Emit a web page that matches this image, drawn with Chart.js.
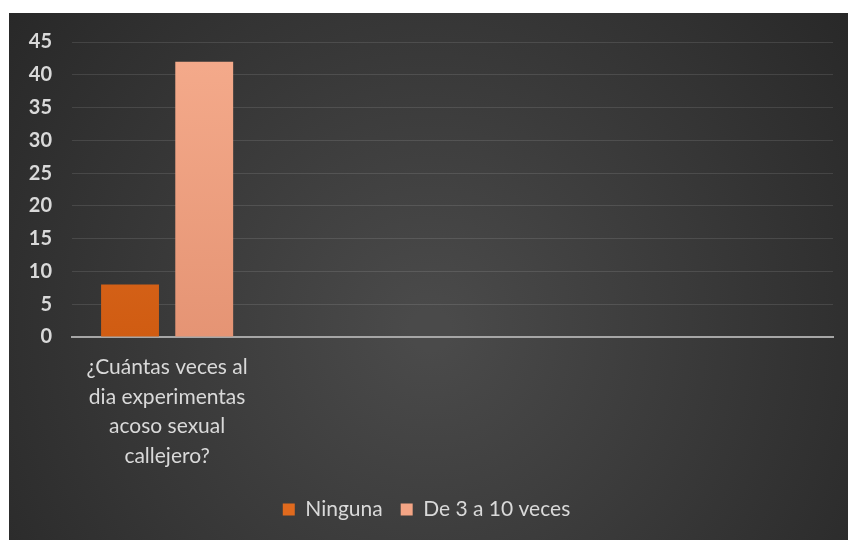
<!DOCTYPE html>
<html>
<head>
<meta charset="utf-8">
<script src="https://cdn.jsdelivr.net/npm/chart.js@4.4.1/dist/chart.umd.min.js"></script>
<style>
  html,body{margin:0;padding:0;background:#fff;}
  #wrap{width:848px;height:540px;position:relative;}
</style>
</head>
<body>
<div id="wrap"><canvas id="chart" width="848" height="540"></canvas></div>
<script>
// DATA
const categories = ['¿Cuántas veces al dia experimentas acoso sexual callejero?'];
const categoryLines = [['¿Cuántas veces al', 'dia experimentas', 'acoso sexual', 'callejero?']];
const seriesNames = ['Ninguna', 'De 3 a 10 veces'];
const ninguna = [8];
const de3a10 = [42];
const yTicks = [0, 5, 10, 15, 20, 25, 30, 35, 40, 45];

// the original plot keeps room for more categories than it fills
const SLOTS = 4;
function pad(arr, fill){ const out = arr.slice(); while(out.length < SLOTS) out.push(fill); return out; }

const textColor = '#d9d9d9';

// BACKGROUND (white margin + dark gradient panel)
const bgPlugin = {
  id:'bg',
  beforeDraw(chart){
    const c = chart.ctx;
    c.save();
    c.fillStyle = '#ffffff';
    c.fillRect(0,0,chart.width,chart.height);
    const g = c.createRadialGradient(430,330,20,430,330,560);
    g.addColorStop(0,'#4a4a4a');
    g.addColorStop(1,'#262626');
    c.fillStyle = g;
    c.fillRect(9,13,chart.width-9,chart.height-13);
    c.restore();
  }
};

function barGrad(top, bottom){
  return (ctx)=>{
    const ca = ctx.chart.chartArea;
    if(!ca) return bottom;
    const g = ctx.chart.ctx.createLinearGradient(0, ca.top, 0, ca.bottom);
    g.addColorStop(0, top);
    g.addColorStop(1, bottom);
    return g;
  };
}

const ctx = document.getElementById('chart').getContext('2d');
new Chart(ctx,{
  type:'bar',
  data:{
    labels: pad(categoryLines, ''),
    datasets:[
      {label:seriesNames[0], data:pad(ninguna,null), backgroundColor:barGrad('#e3732a','#d05c12'), borderWidth:0},
      {label:seriesNames[1], data:pad(de3a10,null), backgroundColor:barGrad('#f5ab8c','#e59474'), borderWidth:0}
    ]
  },
  options:{
    responsive:false,
    animation:false,
    layout:{padding:{left:20, right:15, top:42, bottom:10}},
    datasets:{bar:{categoryPercentage:0.78, barPercentage:0.78}},
    plugins:{
      tooltip:{enabled:false},
      legend:{
        position:'bottom',
        labels:{
          color:textColor,
          font:{family:'Lato', size:21},
          boxWidth:12, boxHeight:12, padding:18,
          generateLabels(chart){
            return chart.data.datasets.map((ds,i)=>({
              text:ds.label,
              fillStyle:i===0?'#e06a1e':'#f4a585',
              strokeStyle:'transparent', lineWidth:0,
              fontColor:textColor, datasetIndex:i, hidden:false
            }));
          }
        }
      }
    },
    scales:{
      x:{
        grid:{display:false, drawTicks:false},
        border:{display:true, color:'#a6a6a6', width:2},
        ticks:{color:textColor, font:{family:'Lato', size:21, lineHeight:1.4}, padding:16, maxRotation:0, autoSkip:false},
        afterFit(s){ s.height = 144; }
      },
      y:{
        min:0, max:45,
        afterBuildTicks(s){ s.ticks = yTicks.map(v=>({value:v})); },
        grid:{color:'rgba(255,255,255,0.11)', drawTicks:false},
        border:{display:false},
        ticks:{color:textColor, font:{family:'Lato', size:20, weight:'bold'}, padding:20},
        afterFit(s){ s.width = 52; }
      }
    }
  },
  plugins:[bgPlugin]
});
</script>
</body>
</html>
